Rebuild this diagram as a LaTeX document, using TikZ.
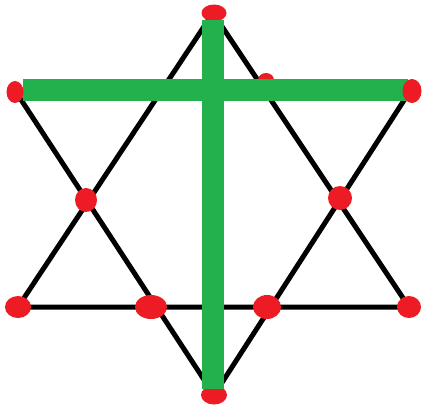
\documentclass[tikz,border=0pt]{standalone}
\usepackage{tikz}
\usetikzlibrary{shapes.geometric}
\definecolor{dotRed}{RGB}{237,28,36}
\definecolor{barGreen}{RGB}{34,177,76}
\tikzset{
  reddot/.style={ellipse,fill=dotRed,inner sep=0pt},
  starline/.style={line width=5pt,black,line join=round},
  greenbar/.style={line width=22pt,barGreen}
}
\begin{document}
\begin{tikzpicture}[x=1pt,y=-1pt]
  \useasboundingbox (0,0) rectangle (422,408);
  % triangle pointing up
  \coordinate (upTop) at (213,13);
  \coordinate (upLeft) at (18,307);
  \coordinate (upRight) at (409,307);
  % triangle pointing down
  \coordinate (dnLeft) at (16,92);
  \coordinate (dnRight) at (410,91);
  \coordinate (dnBot) at (214,395);
  \draw[starline] (upTop) -- (upLeft) -- (upRight) -- cycle;
  \draw[starline] (dnLeft) -- (dnRight) -- (dnBot) -- cycle;
  % dots under the cross
  \node[reddot,minimum width=25pt,minimum height=17pt] (dTop) at (214,13) {};
  \node[reddot,minimum width=26pt,minimum height=19pt] (dBot) at (214,395) {};
  \node[reddot,minimum width=16pt,minimum height=14pt] (dHid) at (266,80) {};
  % green cross
  \coordinate (barL) at (23,90);
  \coordinate (barR) at (408,90);
  \coordinate (barT) at (213,20);
  \coordinate (barB) at (213,389);
  \draw[greenbar] (barL) -- (barR);
  \draw[greenbar] (barT) -- (barB);
  % remaining dots
  \node[reddot,minimum width=17pt,minimum height=22pt] (dUL) at (15,92) {};
  \node[reddot,minimum width=19pt,minimum height=24pt] (dUR) at (412,91) {};
  \node[reddot,minimum width=22pt,minimum height=24pt] (dML) at (86,200) {};
  \node[reddot,minimum width=24pt,minimum height=24pt] (dMR) at (340,198) {};
  \node[reddot,minimum width=26pt,minimum height=22pt] (dB1) at (18,307) {};
  \node[reddot,minimum width=32pt,minimum height=24pt] (dB2) at (151,307) {};
  \node[reddot,minimum width=28pt,minimum height=24pt] (dB3) at (267,307) {};
  \node[reddot,minimum width=24pt,minimum height=22pt] (dB4) at (409,307) {};
\end{tikzpicture}
\end{document}
